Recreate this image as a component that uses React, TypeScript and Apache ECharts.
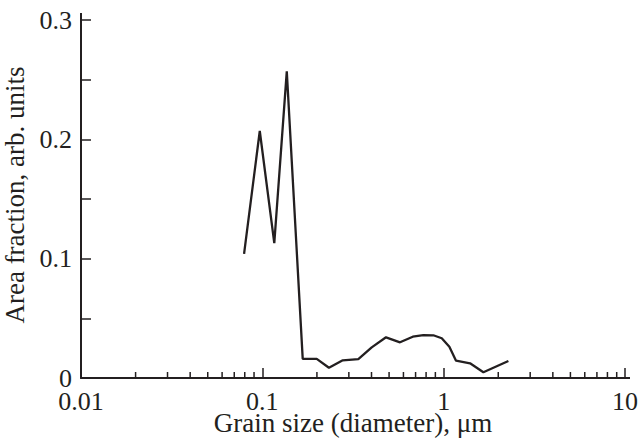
import React, { useEffect, useRef } from "react";
import * as echarts from "echarts";

const grainSize = [0.0793, 0.0968, 0.1164, 0.1364, 0.167, 0.1995, 0.233, 0.2777, 0.3384, 0.401, 0.481, 0.5746, 0.6755, 0.7727, 0.877, 0.976, 1.075, 1.17, 1.398, 1.656, 2.275];
const areaFraction = [0.104, 0.207, 0.113, 0.257, 0.016, 0.016, 0.0086, 0.0148, 0.0159, 0.0257, 0.0341, 0.0299, 0.0346, 0.036, 0.0358, 0.0333, 0.0262, 0.0145, 0.0123, 0.0048, 0.0142];
const xMinorTicks = [0.02, 0.03, 0.04, 0.05, 0.06, 0.07, 0.08, 0.09, 0.2, 0.3, 0.4, 0.5, 0.6, 0.7, 0.8, 0.9, 2, 3, 4, 5, 6, 7, 8, 9];
const xTitle = "Grain size (diameter), \u03bcm";
const yTitle = "Area fraction, arb. units";

const INK = "#231f20";
const FONT = "Liberation Serif";

export default function App() {
  const ref = useRef<HTMLDivElement>(null);
  useEffect(() => {
    if (!ref.current) return;
    const chart = echarts.init(ref.current, null, { renderer: "svg" });
    const fmtX = (v: number) => (v >= 1 ? v.toFixed(0) : String(+v.toPrecision(1)));
    chart.setOption({
      animation: false,
      backgroundColor: "#fff",
      grid: { left: 81, top: 20, right: 15, bottom: 67, containLabel: false, outerBoundsMode: "none" },
      xAxis: {
        type: "log",
        logBase: 10,
        min: 0.01,
        max: 10,
        name: xTitle,
        nameLocation: "middle",
        nameGap: 34,
        nameMoveOverlap: false,
        nameTextStyle: { fontFamily: FONT, fontSize: 27, color: INK, lineHeight: 21 },
        axisLine: { show: true, onZero: false, lineStyle: { color: INK, width: 2 } },
        axisTick: { show: true, inside: true, length: 10, lineStyle: { color: INK, width: 1.5 } },
        minorTick: { show: false },
        splitLine: { show: false },
        axisLabel: { fontFamily: FONT, fontSize: 26, color: INK, margin: 13, lineHeight: 20, formatter: fmtX, showMinLabel: true, showMaxLabel: true },
      },
      yAxis: {
        type: "value",
        min: 0,
        max: 0.3,
        interval: 0.1,
        name: yTitle,
        nameLocation: "middle",
        nameGap: 53,
        nameMoveOverlap: false,
        nameTextStyle: { fontFamily: FONT, fontSize: 27, color: INK, padding: [0, 0, 0, 8] },
        axisLine: { show: true, lineStyle: { color: INK, width: 2 } },
        axisTick: { show: true, inside: true, length: 10, lineStyle: { color: INK, width: 1.5 } },
        minorTick: { show: true, splitNumber: 2, length: 10, lineStyle: { color: INK, width: 1.5 } },
        splitLine: { show: false },
        minorSplitLine: { show: false },
        axisLabel: { fontFamily: FONT, fontSize: 26, color: INK, margin: 9, lineHeight: 20, formatter: (v: number) => (v === 0 ? "0" : v.toFixed(1)) },
      },
      graphic: [
        { type: "line", shape: { x1: 81, y1: 13, x2: 81, y2: 21 }, style: { stroke: INK, lineWidth: 2 } },
        { type: "line", shape: { x1: 624, y1: 378, x2: 630, y2: 378 }, style: { stroke: INK, lineWidth: 2 } },
      ],
      series: [
        {
          type: "line",
          data: grainSize.map((x, i) => [x, areaFraction[i]]),
          showSymbol: false,
          symbol: "none",
          lineStyle: { color: INK, width: 2.3 },
          z: 5,
        },
        {
          type: "custom",
          coordinateSystem: "cartesian2d",
          silent: true,
          data: xMinorTicks.map((v) => [v, 0]),
          renderItem: (_params: any, api: any) => {
            const p = api.coord([api.value(0), 0]);
            return {
              type: "line",
              shape: { x1: p[0], y1: p[1], x2: p[0], y2: p[1] - 6 },
              style: { stroke: INK, lineWidth: 1.5 },
            };
          },
          z: 3,
        },
      ],
    });
    return () => chart.dispose();
  }, []);
  return <div ref={ref} style={{ position: "fixed", left: 0, top: 0, width: 640, height: 445 }} />;
}
